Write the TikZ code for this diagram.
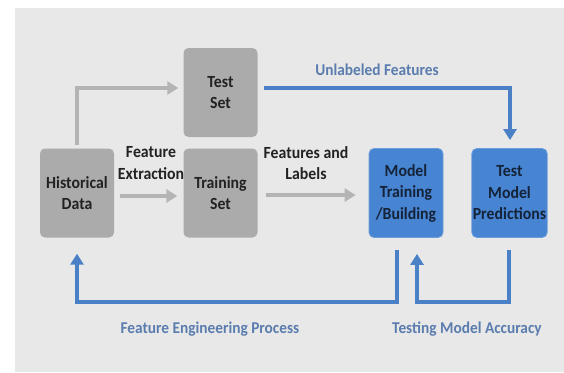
\documentclass[tikz,border=0pt]{standalone}
\usepackage{fontspec}
\setmainfont{Carlito}
\newfontfamily\narrowfont[FakeStretch=0.93]{Carlito}
\usetikzlibrary{arrows.meta,calc}
\definecolor{bgc}{HTML}{E8E8E8}
\definecolor{grayboxc}{HTML}{ABABAB}
\definecolor{grayarrc}{HTML}{B4B4B4}
\definecolor{blueboxc}{HTML}{4784D2}
\definecolor{bluelinec}{HTML}{4A80C6}
\definecolor{bluetextc}{HTML}{5A7CAE}
\definecolor{darktextc}{HTML}{222222}
\definecolor{navytextc}{HTML}{152338}
\tikzset{
  x=1pt,y=1pt,
  boxbase/.style={rounded corners=5pt,minimum width=74pt,minimum height=89pt,inner sep=1pt,align=center,
     font=\narrowfont\fontsize{17}{21.5}\selectfont\bfseries},
  graybox/.style={boxbase,fill=grayboxc,text=darktextc},
  bluebox/.style={boxbase,fill=blueboxc,draw=blueboxc!80!white,line width=0.8pt,text=navytextc},
  grayarrow/.style={draw=grayarrc,line width=4.5pt,-{Triangle[length=11pt,width=13pt]}},
  bluearrow/.style={draw=bluelinec,line width=4pt,-{Triangle[length=11pt,width=13pt]}},
  darklabel/.style={font=\narrowfont\fontsize{17}{21.5}\selectfont\bfseries,text=darktextc,align=center,inner sep=0pt},
  bluelabel/.style={font=\narrowfont\fontsize{16.5}{20}\selectfont\bfseries,text=bluetextc,inner sep=0pt},
}
\begin{document}
\begin{tikzpicture}
\useasboundingbox (0,0) rectangle (564,-372);
\fill[white] (0,0) rectangle (564,-372);
\fill[bgc] (15,-8) rectangle (564,-372);

\node[graybox] (hist) at (77,-193) {Historical\\Data};
\node[graybox] (test) at (220.5,-92.5) {Test\\Set};
\node[graybox] (train) at (220.5,-193) {Training\\Set};
\node[bluebox] (model) at (406,-193) {Model\\Training\\/Building};
\node[bluebox] (pred) at (509.5,-193) {Test\\Model\\Predictions};

\coordinate (hup) at (77,-88);
\draw[grayarrow] ([yshift=3pt]hist.north) -- (hup) -- ($(test.west|-hup)+(-5,0)$);
\draw[grayarrow] ([xshift=6pt,yshift=-3pt]hist.east) -- ([xshift=-6pt,yshift=-3pt]train.west);
\draw[grayarrow] ([xshift=8pt,yshift=-2pt]train.east) -- ([xshift=-13pt,yshift=-2pt]model.west);
\node[darklabel] (fe) at (151,-163) {Feature\\Extraction};
\node[darklabel] (fl) at (306,-163) {Features and\\Labels};

\coordinate (ucorner) at (510,-88);
\draw[bluearrow] ($(test.east|-ucorner)+(6,0)$) -- (ucorner) -- ([yshift=8pt]ucorner|-pred.north);
\node[bluelabel] (ul) at (377,-70) {Unlabeled Features};

\coordinate (fb1) at (397,-302);
\coordinate (fb2) at (77,-302);
\draw[bluearrow] ([yshift=-12pt]fb1|-model.south) -- (fb1) -- (fb2) -- ([yshift=-16pt]fb2|-hist.south);
\coordinate (tb1) at (509,-302);
\coordinate (tb2) at (417,-302);
\draw[bluearrow] ([yshift=-12pt]tb1|-pred.south) -- (tb1) -- (tb2) -- ([yshift=-16pt]tb2|-model.south);
\node[bluelabel] (fep) at (210,-329) {Feature Engineering Process};
\node[bluelabel] (tma) at (467,-329) {Testing Model Accuracy};
\end{tikzpicture}
\end{document}
